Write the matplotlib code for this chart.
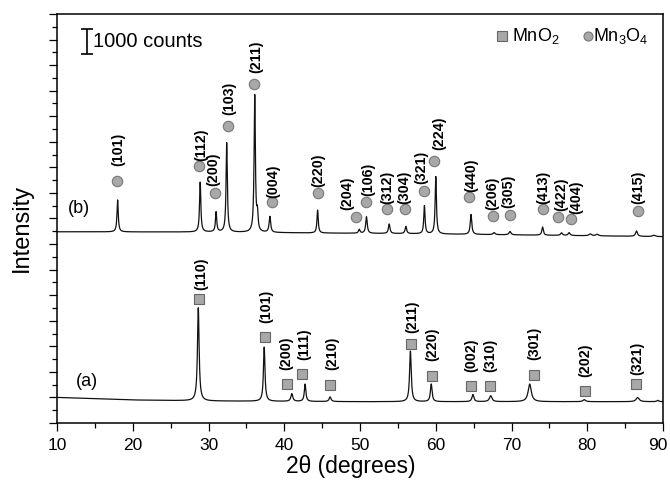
import numpy as np
import matplotlib
matplotlib.use('Agg')
import matplotlib.pyplot as plt
from matplotlib.ticker import MultipleLocator, NullFormatter, FuncFormatter

plt.rcParams['font.family'] = ['Liberation Sans', 'DejaVu Sans']
plt.rcParams['mathtext.fontset'] = 'custom'
plt.rcParams['mathtext.rm'] = 'Liberation Sans'
plt.rcParams['mathtext.it'] = 'Liberation Sans:italic'
plt.rcParams['mathtext.bf'] = 'Liberation Sans:bold'

# ---- pattern (a): MnO2 ----
bg_a_pos = [10, 20, 30, 40, 50, 90]
bg_a_cnt = [1000, 900, 860, 845, 833, 833]
peak_a_pos = [28.65, 37.35, 41.0, 42.75, 46.05, 56.65, 59.4, 64.9, 67.25, 72.4, 79.6, 86.65, 89.3]
peak_a_hgt = [3650, 2120, 300, 680, 180, 1980, 690, 280, 230, 690, 80, 160, 50]
peak_a_wid = [0.13, 0.12, 0.15, 0.12, 0.15, 0.13, 0.13, 0.15, 0.2, 0.25, 0.2, 0.25, 0.15]

mark_a_pos = [28.7, 37.45, 40.3, 42.4, 46.1, 56.75, 59.45, 64.7, 67.15, 72.95, 79.7, 86.45]
mark_a_cnt = [4840, 3350, 1525, 1917, 1487, 3078, 1839, 1447, 1447, 1878, 1264, 1525]
hkl_a = ['(110)', '(101)', '(200)', '(111)', '(210)', '(211)', '(220)',
         '(002)', '(310)', '(301)', '(202)', '(321)']

# ---- pattern (b): Mn3O4 ----
bg_b_pos = [10, 30, 45, 55, 70, 90]
bg_b_cnt = [7480, 7470, 7430, 7410, 7360, 7290]
peak_b_pos = [18.0, 28.9, 31.0, 32.4, 36.1, 36.45, 38.1, 44.4, 49.9, 50.85, 53.85, 56.05,
              58.5, 60.0, 64.65, 67.7, 69.8, 74.1, 76.6, 77.6, 80.4, 81.3, 86.5, 88.8]
peak_b_hgt = [1250, 1950, 780, 3500, 5350, 650, 620, 900, 150, 650, 370, 280,
              1100, 2250, 780, 80, 130, 320, 100, 110, 70, 60, 210, 50]
peak_b_wid = [0.1, 0.1, 0.1, 0.1, 0.1, 0.1, 0.12, 0.1, 0.12, 0.12, 0.12, 0.12,
              0.1, 0.1, 0.12, 0.15, 0.15, 0.12, 0.15, 0.15, 0.2, 0.2, 0.15, 0.2]

mark_b_pos = [17.95, 28.8, 30.85, 32.55, 36.0, 38.35, 44.5, 49.45, 50.85, 53.6, 55.9,
              58.5, 59.75, 64.45, 67.6, 69.8, 74.2, 76.2, 77.8, 86.75]
mark_b_cnt = [9470, 10070, 9010, 11620, 13250, 8630, 8980, 8070, 8660, 8360, 8360,
              9090, 10250, 8850, 8100, 8140, 8360, 8070, 7970, 8310]
hkl_b = ['(101)', '(112)', '(200)', '(103)', '(211)', '(004)', '(220)', '(204)', '(106)',
         '(312)', '(304)', '(321)', '(224)', '(440)', '(206)', '(305)', '(413)', '(422)',
         '(404)', '(415)']

# label nudges (points) relative to the marker, (dx, dy)
nudge_a = [(1.5, 6.5), (1, 10), (0, 10), (1.5, 10), (1, 10.5), (0.5, 8), (0.5, 11),
           (0, 10), (0, 10), (0, 10.5), (0, 10), (0.5, 6.5)]
nudge_b = [(0.5, 11), (1.5, 3.5), (-1.5, 4.5), (1, 8), (2, 8), (1, 3.5), (0, 4.5),
           (-6.5, 5), (1.5, 4), (0, 4), (0, 4), (-2, 4.5), (3.6, 8), (1, 3.5),
           (-1, 4.5), (-1, 5), (0, 4), (2.2, 4), (3.8, 3.5), (0, 5)]


def pattern(x, bg_pos, bg_cnt, pos, hgt, wid):
    y = np.interp(x, bg_pos, bg_cnt)
    for p, h, w in zip(pos, hgt, wid):
        y = y + h / (1 + ((x - p) / w) ** 2)
    return y


tt = np.linspace(10, 90, 6000)
int_a = pattern(tt, bg_a_pos, bg_a_cnt, peak_a_pos, peak_a_hgt, peak_a_wid)
int_b = pattern(tt, bg_b_pos, bg_b_cnt, peak_b_pos, peak_b_hgt, peak_b_wid)

fig = plt.figure(figsize=(6.7, 4.8), dpi=100)
ax = fig.add_axes([0.0851, 0.1188, 0.9045, 0.852])

ax.plot(tt, int_a, color='#111111', lw=0.9)
ax.plot(tt, int_b, color='#111111', lw=0.9)

ax.plot(mark_a_pos, mark_a_cnt, 's', ms=7, mfc='#a8a8a8', mec='#666666', mew=0.8)
ax.plot(mark_b_pos, mark_b_cnt, 'o', ms=7.5, mfc='#a8a8a8', mec='#777777', mew=0.8)

for p, c, t, d in zip(mark_a_pos, mark_a_cnt, hkl_a, nudge_a):
    ax.annotate(t, (p, c), xytext=d, textcoords='offset points', rotation=90,
                ha='center', va='bottom', fontsize=10.3, fontweight='bold')
for p, c, t, d in zip(mark_b_pos, mark_b_cnt, hkl_b, nudge_b):
    ax.annotate(t, (p, c), xytext=d, textcoords='offset points', rotation=90,
                ha='center', va='bottom', fontsize=10.3, fontweight='bold')

ax.text(13.9, 1615, '(a)', fontsize=13, ha='center', va='center')
ax.text(12.9, 8410, '(b)', fontsize=13, ha='center', va='center')

# scale bar
ax.errorbar(13.9, 14930, yerr=500, fmt='none', ecolor='k', elinewidth=1.2,
            capsize=4, capthick=1.2)
ax.text(14.7, 14930, '1000 counts', fontsize=14.5, ha='left', va='center')

# phase key
ax.plot([0.734], [0.946], 's', ms=7, mfc='#a8a8a8', mec='#666666', mew=0.8,
        transform=ax.transAxes, clip_on=False)
ax.text(0.751, 0.946, 'MnO$_2$', fontsize=13, ha='left', va='center', transform=ax.transAxes)
ax.plot([0.876], [0.946], 'o', ms=6.5, mfc='#a8a8a8', mec='#777777', mew=0.8,
        transform=ax.transAxes, clip_on=False)
ax.text(0.885, 0.946, 'Mn$_3$O$_4$', fontsize=13, ha='left', va='center', transform=ax.transAxes)

ax.set_xlim(10, 90)
ax.set_ylim(0, 16000)
ax.xaxis.set_major_locator(MultipleLocator(10))
ax.xaxis.set_minor_locator(MultipleLocator(5))
# the last label ("90") is drawn separately so that it stays inside the figure
ax.xaxis.set_major_formatter(FuncFormatter(lambda v, p: '' if v >= 90 else f'{v:g}'))
ax.yaxis.set_major_locator(MultipleLocator(1000))
ax.yaxis.set_minor_locator(MultipleLocator(500))
ax.yaxis.set_major_formatter(NullFormatter())
ax.tick_params(which='major', direction='out', length=6, width=0.9, labelsize=12.5, pad=5)
ax.tick_params(which='minor', direction='out', length=3.5, width=0.9)
ax.tick_params(top=False, right=False, which='both')
for s in ax.spines.values():
    s.set_linewidth(1.1)

ax.annotate('90', xy=(90, 0), xycoords=('data', 'axes fraction'), xytext=(-3.5, -11),
            textcoords='offset points', ha='center', va='top', fontsize=12.5)

ax.set_xlabel('2θ (degrees)', fontsize=16.5)
ax.set_ylabel('Intensity', fontsize=17)
ax.xaxis.set_label_coords(0.484, -0.078)
ax.yaxis.set_label_coords(-0.04, 0.477)

fig.savefig('out.png', dpi=100)
